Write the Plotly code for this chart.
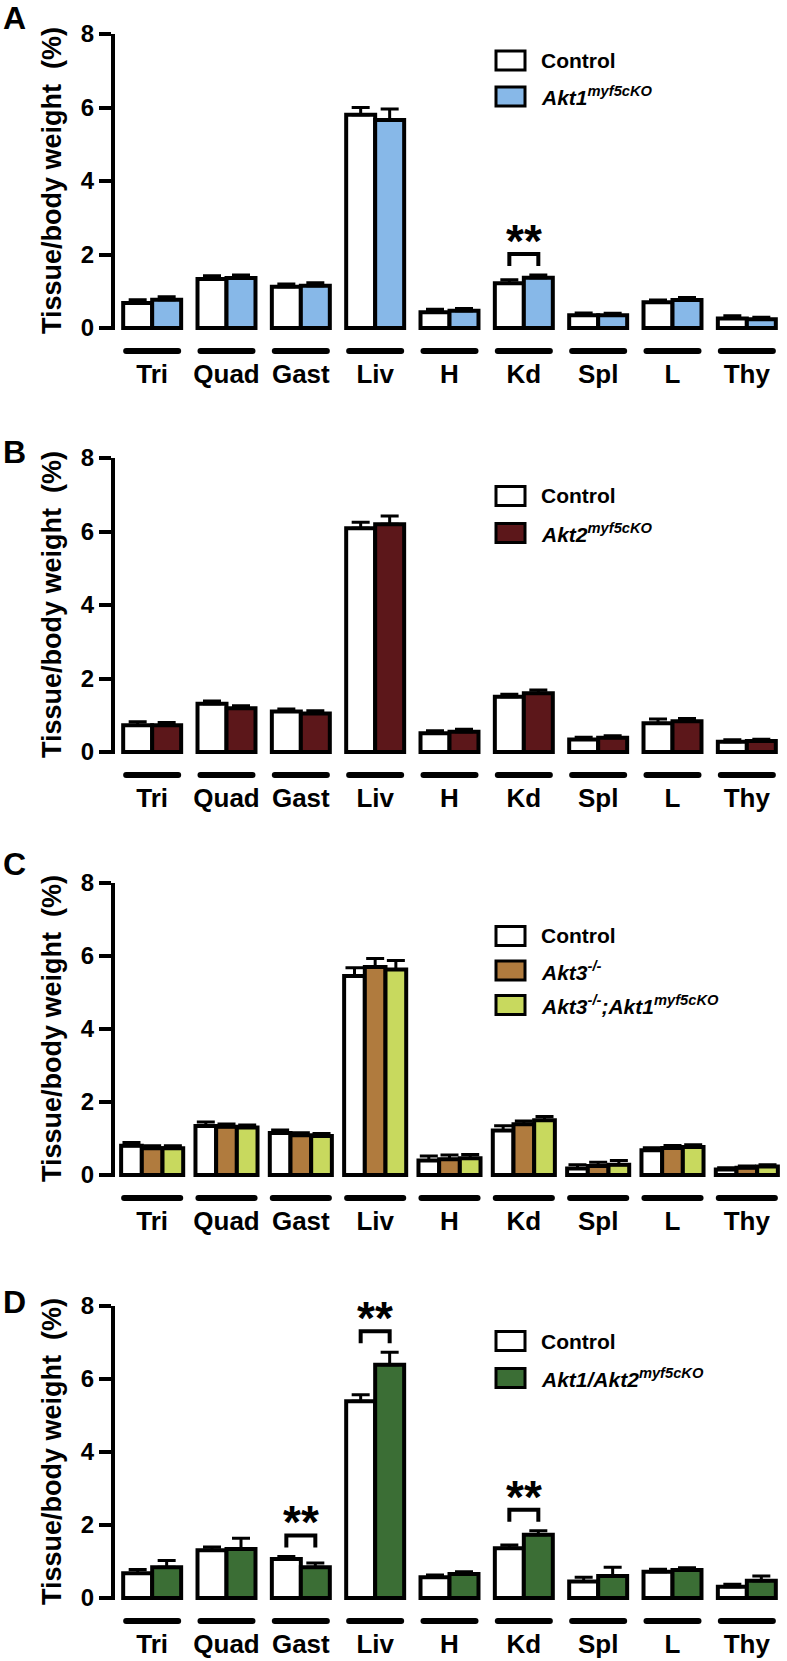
import plotly.graph_objects as go

# ---------------- data ----------------
categories = ["Tri", "Quad", "Gast", "Liv", "H", "Kd", "Spl", "L", "Thy"]
panel_letters = ["A", "B", "C", "D"]

# Panel A
a_names = ["Control", "<i>Akt1<sup>myf5cKO</sup></i>"]
a_ctrl = [0.68, 1.33, 1.12, 5.80, 0.43, 1.22, 0.35, 0.70, 0.26]
a_ctrl_err = [0.09, 0.09, 0.08, 0.20, 0.08, 0.09, 0.06, 0.06, 0.07]
a_ko = [0.77, 1.36, 1.15, 5.66, 0.47, 1.37, 0.35, 0.76, 0.24]
a_ko_err = [0.08, 0.08, 0.08, 0.30, 0.06, 0.07, 0.05, 0.07, 0.05]
a_sig = ["Kd"]

# Panel B
b_names = ["Control", "<i>Akt2<sup>myf5cKO</sup></i>"]
b_ctrl = [0.73, 1.31, 1.10, 6.09, 0.51, 1.50, 0.34, 0.78, 0.28]
b_ctrl_err = [0.09, 0.08, 0.07, 0.16, 0.07, 0.07, 0.06, 0.12, 0.05]
b_ko = [0.73, 1.19, 1.05, 6.20, 0.55, 1.60, 0.39, 0.84, 0.30]
b_ko_err = [0.07, 0.07, 0.07, 0.22, 0.07, 0.09, 0.05, 0.07, 0.05]
b_sig = []

# Panel C
c_names = ["Control", "<i>Akt3<sup>-/-</sup></i>", "<i>Akt3<sup>-/-</sup>;Akt1<sup>myf5cKO</sup></i>"]
c_ctrl = [0.80, 1.34, 1.15, 5.45, 0.40, 1.22, 0.18, 0.68, 0.15]
c_ctrl_err = [0.09, 0.11, 0.08, 0.23, 0.12, 0.13, 0.10, 0.07, 0.05]
c_akt3 = [0.73, 1.32, 1.09, 5.70, 0.43, 1.39, 0.25, 0.74, 0.20]
c_akt3_err = [0.07, 0.08, 0.07, 0.23, 0.12, 0.09, 0.10, 0.07, 0.05]
c_combo = [0.73, 1.30, 1.07, 5.63, 0.46, 1.50, 0.28, 0.77, 0.23]
c_combo_err = [0.07, 0.07, 0.07, 0.25, 0.10, 0.10, 0.12, 0.06, 0.05]
c_sig = []

# Panel D
d_names = ["Control", "<i>Akt1/Akt2<sup>myf5cKO</sup></i>"]
d_ctrl = [0.68, 1.31, 1.07, 5.39, 0.57, 1.36, 0.45, 0.72, 0.31]
d_ctrl_err = [0.10, 0.09, 0.07, 0.18, 0.06, 0.09, 0.12, 0.07, 0.07]
d_ko = [0.84, 1.34, 0.84, 6.39, 0.66, 1.73, 0.60, 0.77, 0.47]
d_ko_err = [0.19, 0.30, 0.12, 0.34, 0.06, 0.11, 0.24, 0.06, 0.13]
d_sig = ["Gast", "Liv", "Kd"]

y_ticks = [0, 2, 4, 6, 8]
y_title = "Tissue/body weight\u00a0 (%)"

panels = [
    dict(names=a_names, vals=[a_ctrl, a_ko], errs=[a_ctrl_err, a_ko_err],
         colors=["#FFFFFF", "#87B8E8"], sig=a_sig),
    dict(names=b_names, vals=[b_ctrl, b_ko], errs=[b_ctrl_err, b_ko_err],
         colors=["#FFFFFF", "#5C171A"], sig=b_sig),
    dict(names=c_names, vals=[c_ctrl, c_akt3, c_combo],
         errs=[c_ctrl_err, c_akt3_err, c_combo_err],
         colors=["#FFFFFF", "#B07B3E", "#C8D95E"], sig=c_sig),
    dict(names=d_names, vals=[d_ctrl, d_ko], errs=[d_ctrl_err, d_ko_err],
         colors=["#FFFFFF", "#3B6E35"], sig=d_sig),
]

# ---------------- layout constants ----------------
W, H = 787, 1661
ML, MR = 115, 3
FONT = "Liberation Sans, Arial, Helvetica, sans-serif"
panel_top_px = [34, 458, 883, 1306]      # pixel row of y = 8
panel_zero_px = [328, 752, 1175, 1598]   # pixel row of y = 0
group_width = [0.78, 0.78, 0.835, 0.78]
legend_first = [26.5, 38, 53, 35]
legend_step = [36, 37, 34.5, 37]
letter_off = [-16, -6, -19, -4]
y_low = -0.06


def px_x(px):
    return (px - ML) / (W - ML - MR)


def px_y(py):
    return 1 - py / H


fig = go.Figure()
shapes = []
annotations = []
layout_axes = {}

for p, panel in enumerate(panels):
    n = p + 1
    xa = "x" if n == 1 else f"x{n}"
    ya = "y" if n == 1 else f"y{n}"
    top, zero = panel_top_px[p], panel_zero_px[p]
    ppu = (zero - top) / 8.0
    bottom_px = zero - y_low * ppu
    gw = group_width[p]
    ng = len(panel["vals"])
    bw = gw / ng
    xs = list(range(len(categories)))

    for k in range(ng):
        fig.add_trace(go.Bar(
            x=xs, y=panel["vals"][k], width=bw, offset=-gw / 2 + k * bw,
            name=panel["names"][k],
            marker=dict(color=panel["colors"][k], line=dict(color="black", width=4)),
            error_y=dict(type="data", array=panel["errs"][k],
                         arrayminus=[0] * len(categories), symmetric=False,
                         color="black", thickness=3, width=9),
            xaxis=xa, yaxis=ya, showlegend=False,
        ))

    layout_axes["xaxis" if n == 1 else f"xaxis{n}"] = dict(
        domain=[0, 1], anchor=ya, range=[-0.5, len(categories) - 0.5],
        tickmode="array", tickvals=xs, ticktext=categories,
        showline=False, ticks="", showgrid=False, zeroline=False,
        tickfont=dict(family=FONT, size=26, color="black", weight="bold"),
        ticklabelstandoff=26, automargin=False, fixedrange=True,
    )
    layout_axes["yaxis" if n == 1 else f"yaxis{n}"] = dict(
        domain=[px_y(bottom_px), px_y(top)], anchor=xa, range=[y_low, 8],
        tickmode="array", tickvals=y_ticks, ticktext=[str(t) for t in y_ticks],
        showline=True, linecolor="black", linewidth=4,
        ticks="outside", ticklen=12, tickwidth=4, tickcolor="black",
        showgrid=False, zeroline=False, automargin=False, fixedrange=True,
        tickfont=dict(family=FONT, size=24, color="black", weight="bold"),
    )

    # category underlines with rounded ends
    for i in xs:
        yl = px_y(zero + 23)
        shapes.append(dict(type="line", xref=xa, yref="paper",
                           x0=i - gw / 2 + 0.04, x1=i + gw / 2 - 0.04, y0=yl, y1=yl,
                           line=dict(color="black", width=6)))
        for xe in (i - gw / 2 + 0.04, i + gw / 2 - 0.04):
            shapes.append(dict(type="circle", xref=xa, yref="paper", xsizemode="pixel",
                               xanchor=xe, x0=-3, x1=3,
                               y0=px_y(zero + 26), y1=px_y(zero + 20),
                               fillcolor="black", line=dict(width=0)))

    # significance brackets
    for cat in panel["sig"]:
        i = categories.index(cat)
        hi = max(panel["vals"][0][i] + panel["errs"][0][i],
                 panel["vals"][1][i] + panel["errs"][1][i])
        xl = i - gw / 2 + bw / 2
        xr = i - gw / 2 + 1.5 * bw
        shapes.append(dict(type="path", xref=xa, yref=ya, ysizemode="pixel", yanchor=hi,
                           path=f"M {xl},9 L {xl},21 L {xr},21 L {xr},9",
                           line=dict(color="black", width=4)))
        annotations.append(dict(x=i - gw / 2 + bw, y=hi, xref=xa, yref=ya,
                                text="<b>**</b>", showarrow=False, yanchor="bottom",
                                yshift=6, font=dict(family=FONT, size=46, color="black")))

    # y title
    annotations.append(dict(x=px_x(52), y=px_y((top + zero) / 2), xref="paper", yref="paper",
                            text=f"<b>{y_title}</b>", textangle=-90, showarrow=False,
                            xanchor="center", yanchor="middle",
                            font=dict(family=FONT, size=27, color="black")))
    # panel letter
    annotations.append(dict(x=px_x(1), y=px_y(top + letter_off[p]), xref="paper", yref="paper",
                            text=f"<b>{panel_letters[p]}</b>", showarrow=False,
                            xanchor="left", yanchor="middle",
                            font=dict(family=FONT, size=32, color="black")))
    # legend
    for k in range(ng):
        cy = top + legend_first[p] + k * legend_step[p]
        shapes.append(dict(type="rect", xref="paper", yref="paper",
                           x0=px_x(496), x1=px_x(525), y0=px_y(cy + 9.5), y1=px_y(cy - 9.5),
                           fillcolor=panel["colors"][k], line=dict(color="black", width=3)))
        annotations.append(dict(x=px_x(539), y=px_y(cy), xref="paper", yref="paper",
                                text=f"<b>{panel['names'][k]}</b>", showarrow=False,
                                xanchor="left", yanchor="middle",
                                font=dict(family=FONT, size=21, color="black")))

fig.update_layout(
    width=W, height=H,
    margin=dict(l=ML, r=MR, t=0, b=0, autoexpand=False),
    paper_bgcolor="white", plot_bgcolor="white",
    barmode="overlay", showlegend=False,
    shapes=shapes, annotations=annotations,
    font=dict(family=FONT, color="black"),
    **layout_axes,
)

fig.write_html("out.html", config={"displayModeBar": False},
               post_script="document.body.style.margin='0';document.body.style.overflow='hidden';")
